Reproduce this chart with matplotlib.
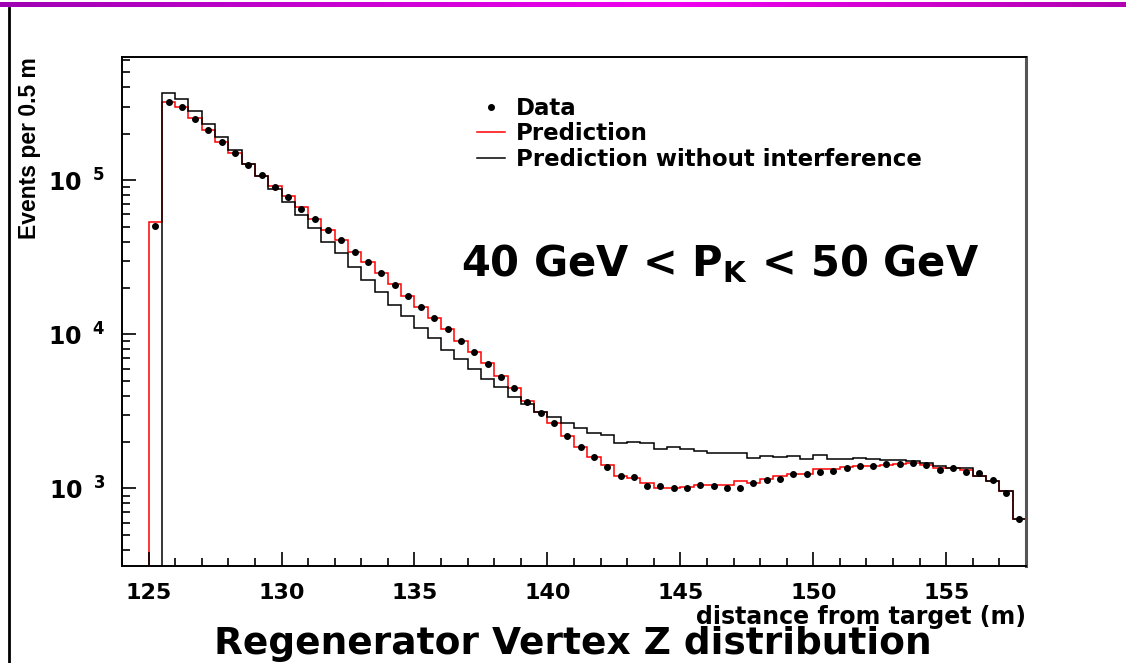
import numpy as np
import matplotlib
matplotlib.use('Agg')
import matplotlib.pyplot as plt
from matplotlib.lines import Line2D
from matplotlib.ticker import MultipleLocator, LogLocator, NullFormatter
from matplotlib.colors import LinearSegmentedColormap

# 0.5 m bins from 125 m to 158 m
edges = np.arange(125.0, 158.01, 0.5)

# Prediction (red), one value per bin starting at 125.0
prediction = [5.34e4, 3.21e5, 2.99e5, 2.52e5, 2.11e5, 1.77e5, 1.50e5, 1.27e5,
              1.07e5, 9.2e4, 7.87e4, 6.67e4, 5.58e4, 4.77e4, 4.09e4, 3.44e4,
              2.93e4, 2.49e4, 2.11e4, 1.78e4, 1.51e4, 1.27e4, 1.08e4, 9.1e3,
              7.71e3, 6.49e3, 5.38e3, 4.46e3, 3.71e3, 3.12e3, 2.64e3, 2.19e3,
              1.85e3, 1.60e3, 1.42e3, 1.20e3, 1.17e3, 1.08e3, 1.01e3, 1.01e3,
              1.02e3, 1.05e3, 1.05e3, 1.06e3, 1.12e3, 1.09e3, 1.15e3, 1.20e3,
              1.25e3, 1.25e3, 1.33e3, 1.33e3, 1.37e3, 1.40e3, 1.40e3, 1.43e3,
              1.45e3, 1.47e3, 1.41e3, 1.35e3, 1.35e3, 1.31e3, 1.20e3, 1.12e3,
              961, 630]

# Prediction without interference (black), bins starting at 125.5
no_interference = [3.69e5, 3.34e5, 2.81e5, 2.31e5, 1.90e5, 1.57e5, 1.28e5, 1.07e5,
                   8.73e4, 7.19e4, 5.96e4, 4.88e4, 3.99e4, 3.36e4, 2.75e4, 2.25e4,
                   1.89e4, 1.55e4, 1.32e4, 1.10e4, 9.42e3, 7.91e3, 6.92e3, 5.96e3,
                   5.13e3, 4.53e3, 3.94e3, 3.53e3, 3.15e3, 2.92e3, 2.64e3, 2.45e3,
                   2.30e3, 2.22e3, 1.98e3, 2.01e3, 1.96e3, 1.80e3, 1.85e3, 1.80e3,
                   1.75e3, 1.69e3, 1.69e3, 1.69e3, 1.58e3, 1.62e3, 1.61e3, 1.62e3,
                   1.55e3, 1.65e3, 1.55e3, 1.55e3, 1.57e3, 1.55e3, 1.53e3, 1.53e3,
                   1.50e3, 1.47e3, 1.40e3, 1.35e3, 1.35e3, 1.20e3, 1.12e3, 961,
                   630]

# Data points, one per bin starting at 125.0
data = [5.07e4, 3.24e5, 2.99e5, 2.50e5, 2.13e5, 1.78e5, 1.50e5, 1.26e5,
        1.08e5, 9.05e4, 7.8e4, 6.55e4, 5.58e4, 4.75e4, 4.09e4, 3.44e4,
        2.93e4, 2.49e4, 2.09e4, 1.77e4, 1.51e4, 1.27e4, 1.08e4, 9.0e3,
        7.7e3, 6.42e3, 5.31e3, 4.5e3, 3.63e3, 3.1e3, 2.64e3, 2.19e3,
        1.86e3, 1.60e3, 1.37e3, 1.20e3, 1.18e3, 1.035e3, 1.03e3, 1.01e3,
        1.01e3, 1.05e3, 1.035e3, 1.01e3, 1.01e3, 1.08e3, 1.13e3, 1.16e3,
        1.24e3, 1.24e3, 1.28e3, 1.29e3, 1.36e3, 1.40e3, 1.40e3, 1.44e3,
        1.44e3, 1.46e3, 1.41e3, 1.31e3, 1.36e3, 1.28e3, 1.26e3, 1.13e3,
        929, 630]

ytick_vals = [1e3, 1e4, 1e5]
ytick_labels = [r'$10^{\ \ 3}$', r'$10^{\ \ 4}$', r'$10^{\ \ 5}$']
legend_labels = ['Data', 'Prediction', 'Prediction without interference']

plt.rcParams['font.family'] = ['DejaVu Sans']
plt.rcParams['font.weight'] = 'bold'
plt.rcParams['mathtext.fontset'] = 'custom'
plt.rcParams['mathtext.rm'] = 'DejaVu Sans:bold'
plt.rcParams['mathtext.it'] = 'DejaVu Sans:bold'
plt.rcParams['mathtext.bf'] = 'DejaVu Sans:bold'

W, H = 1126, 663
fig = plt.figure(figsize=(W / 100, H / 100), dpi=100)

# magenta bar on top and black line on the left (slide decoration)
bar = fig.add_axes([0, 1 - 7.5 / H, 1, 5.5 / H])
cmap = LinearSegmentedColormap.from_list('bar', [(0, '#a000b4'), (0.6, '#f000f0'), (1, '#b000b0')])
bar.imshow(np.linspace(0, 1, 256)[None, :], aspect='auto', cmap=cmap)
bar.axis('off')
fig.add_artist(Line2D([8.7 / W, 8.7 / W], [0, 1 - 7.5 / H], transform=fig.transFigure,
                      color='black', lw=2.0))

ax = fig.add_axes([122 / W, 1 - 566 / H, 904 / W, 509 / H])

ax.stairs(prediction, edges, baseline=1, color='red', lw=1.1)
ax.stairs(no_interference, edges[1:], baseline=1, color='black', lw=1.1)
centers = edges[:-1] + 0.25
ax.plot(centers, data, 'o', color='black', ms=4)

ax.set_yscale('log')
ax.set_xlim(124, 158)
ax.set_ylim(314, 6.3e5)

ax.xaxis.set_major_locator(MultipleLocator(5))
ax.xaxis.set_minor_locator(MultipleLocator(1))
ax.set_yticks(ytick_vals, labels=ytick_labels)
ax.yaxis.set_minor_locator(LogLocator(subs=range(2, 10)))
ax.yaxis.set_minor_formatter(NullFormatter())
ax.tick_params(which='major', direction='in', length=10, width=1.2)
ax.tick_params(which='minor', direction='in', length=6, width=1.2)
ax.tick_params(axis='x', labelsize=16, pad=12)
ax.tick_params(axis='y', labelsize=17, pad=12)
for s in ax.spines.values():
    s.set_linewidth(1.4)
ax.spines['right'].set_color('#555555')
ax.spines['right'].set_linewidth(2.2)

ax.set_xlabel('distance from target (m)', fontsize=17, fontweight='bold', loc='right')
ax.xaxis.set_label_coords(1.0, -0.076)
ax.set_ylabel('Events per 0.5 m', fontsize=16.5, fontweight='bold', loc='top',
              family=['Liberation Sans', 'DejaVu Sans'])
ax.yaxis.set_label_coords(-0.09, 1.0)

handles = [Line2D([], [], marker='o', ls='none', color='black', ms=4),
           Line2D([], [], color='red', lw=1.1),
           Line2D([], [], color='black', lw=1.1)]
ax.legend(handles, legend_labels, loc='upper left', bbox_to_anchor=(0.393, 0.922),
          frameon=False, prop={'size': 16.5, 'weight': 'bold'}, handlelength=1.2,
          handletextpad=0.5, labelspacing=0.12, borderpad=0, borderaxespad=0)

ax.text(0.6615, 0.5697, r'40 GeV < P$_{\mathrm{K}}$ < 50 GeV', transform=ax.transAxes,
        ha='center', va='baseline', fontsize=30)

fig.text(573 / W, 1 - 654 / H, 'Regenerator Vertex Z distribution',
         ha='center', va='baseline', fontsize=27)

fig.savefig('out.png', dpi=100)
